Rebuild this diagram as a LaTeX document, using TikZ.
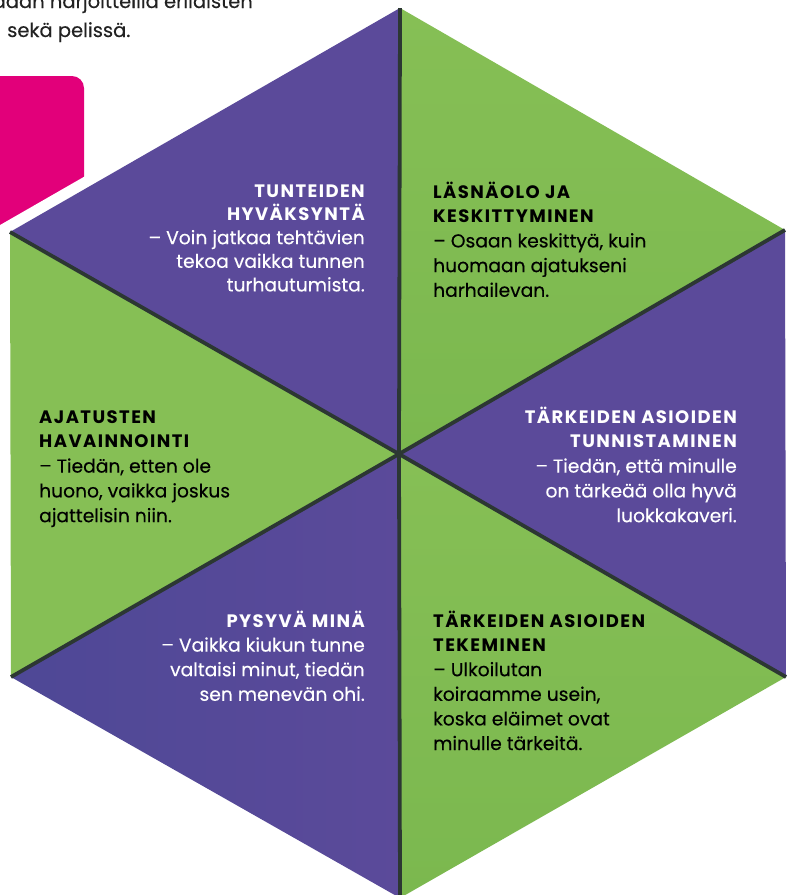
\documentclass[tikz,border=0pt]{standalone}
\usepackage{fontspec}
\setmainfont{Poppins}[FakeBold=0.25, BoldFeatures={FakeBold=0}]
\definecolor{hexpurple}{HTML}{5B4A9A}
\definecolor{hexpurpledeep}{HTML}{4E4896}
\definecolor{hexgreen}{HTML}{86BF55}
\definecolor{hexgreendeep}{HTML}{7BB84F}
\definecolor{spokecol}{HTML}{2C3733}
\definecolor{magentabox}{HTML}{E2007A}
\definecolor{introtext}{HTML}{222222}
\newcommand{\ttl}[1]{{\fontsize{18}{\baselineskip}\selectfont\bfseries\addfontfeatures{LetterSpace=8}#1}}
\tikzset{
  paneltext/.style={inner sep=0pt, font=\fontsize{18.7}{#1}\selectfont},
  lighttext/.style={paneltext=#1, text=white},
  darktext/.style={paneltext=#1, text=black},
  spokeline/.style={spokecol, line width=3.8pt},
}
\begin{document}
\begin{tikzpicture}[x=1pt,y=-1pt]
\useasboundingbox (0,0) rectangle (790,895);
% intro text (cut off at the top edge, as in the reference)
\node[inner sep=0pt, anchor=base east, text=introtext, font=\fontsize{19.5}{24}\selectfont] (intro1) at (253,8) {daan harjoitteilla erilaisten};
\node[inner sep=0pt, anchor=base west, text=introtext, font=\fontsize{19.5}{24}\selectfont] (intro2) at (7,37) {sekä pelissä.};
% magenta box
\fill[magentabox, rounded corners=12pt] (-20,76) rectangle (84,300);
% hexagon corners
\coordinate (C) at (399,454);
\coordinate (T) at (400,8);
\coordinate (UR) at (785,230);
\coordinate (LR) at (786,677);
\coordinate (B) at (400,898);
\coordinate (LL) at (11,677);
\coordinate (UL) at (10,232);
\draw[white, line width=22pt, line join=miter] (T)--(UR)--(LR)--(B)--(LL)--(UL)--cycle;
\fill[hexpurple] (C)--(UL)--(T)--cycle;
\shade[top color=hexgreen, bottom color=hexgreendeep] (C)--(T)--(UR)--cycle;
\fill[hexpurple] (C)--(UR)--(LR)--cycle;
\shade[top color=hexgreen, bottom color=hexgreendeep] (C)--(LR)--(B)--cycle;
\shade[left color=hexpurpledeep, right color=hexpurple] (C)--(B)--(LL)--cycle;
\fill[hexgreen] (C)--(LL)--(UL)--cycle;
\foreach \v in {T,UR,LR,B,LL,UL} \draw[spokeline] (C)--(\v);
% panel texts
\node[lighttext=23.6, anchor=base east] (p1) at (365,197) {\begin{tabular}[t]{@{}r@{}}\ttl{TUNTEIDEN}\\\ttl{HYVÄKSYNTÄ}\\– Voin jatkaa tehtävien\\tekoa vaikka tunnen\\turhautumista.\end{tabular}};
\node[darktext=24.7, anchor=base west] (p2) at (433,198) {\begin{tabular}[t]{@{}l@{}}\ttl{LÄSNÄOLO JA}\\\ttl{KESKITTYMINEN}\\– Osaan keskittyä, kuin\\huomaan ajatukseni\\harhailevan.\end{tabular}};
\node[lighttext=24.8, anchor=base east] (p3) at (737,423) {\begin{tabular}[t]{@{}r@{}}\ttl{TÄRKEIDEN ASIOIDEN}\\\ttl{TUNNISTAMINEN}\\– Tiedän, että minulle\\on tärkeää olla hyvä\\luokkakaveri.\end{tabular}};
\node[darktext=24.8, anchor=base west] (p4) at (39,423) {\begin{tabular}[t]{@{}l@{}}\ttl{AJATUSTEN}\\\ttl{HAVAINNOINTI}\\– Tiedän, etten ole\\huono, vaikka joskus\\ajattelisin niin.\end{tabular}};
\node[lighttext=24.6, anchor=base east] (p5) at (365,627) {\begin{tabular}[t]{@{}r@{}}\ttl{PYSYVÄ MINÄ}\\– Vaikka kiukun tunne\\valtaisi minut, tiedän\\sen menevän ohi.\end{tabular}};
\node[darktext=24.6, anchor=base west] (p6) at (433,627) {\begin{tabular}[t]{@{}l@{}}\ttl{TÄRKEIDEN ASIOIDEN}\\\ttl{TEKEMINEN}\\– Ulkoilutan\\koiraamme usein,\\koska eläimet ovat\\minulle tärkeitä.\end{tabular}};
\end{tikzpicture}
\end{document}
